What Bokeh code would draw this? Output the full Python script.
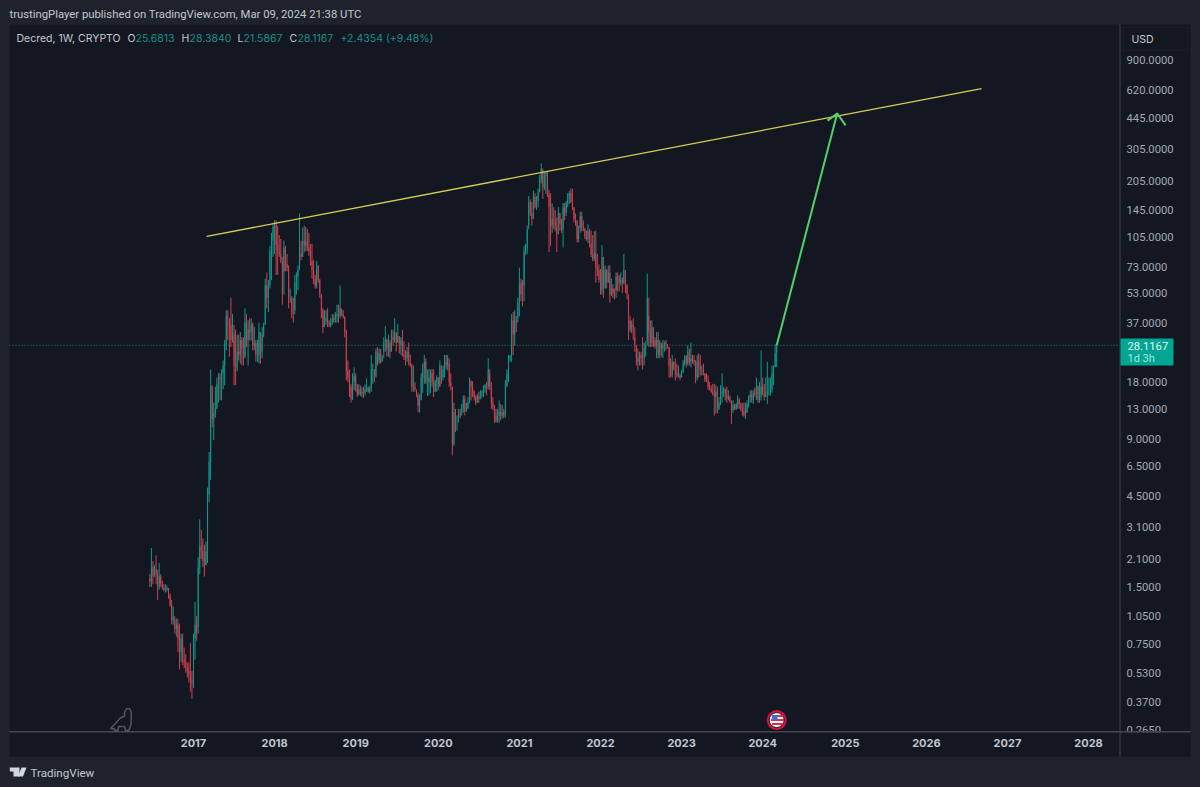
from bokeh.plotting import figure
from bokeh.models import (ColumnDataSource, FixedTicker, NumeralTickFormatter, Label, BoxAnnotation,
                          PolyAnnotation)
from bokeh.embed import file_html
from bokeh.resources import INLINE

highs = [
1.75,2.40,2.05,1.95,2.20,1.85,2.00,1.75,1.62,1.55,
1.55,1.52,1.48,1.38,1.28,1.18,1.00,1.02,1.02,.96,
.85,.85,.72,.66,.60,.60,.76,.54,.85,1.25,
1.05,2.15,3.40,3.00,2.70,2.50,2.60,5.0,7.7,21,
17.3,14,17,19,20,20,21,23.4,30,43,
43,38,50,41,36,34,32,32,33,31,
31,44,41,38,39,39,37,35,30,30,
37,29,35,37,63,68,62,94,110,122,
128,128,120,107,102,82,100,94,85,74,
56,51,50,66,68,74,139,86,117,120,
118,115,110,96,96,79,66,78,74,63,
52,44,43,43,44,38,39,41,41,42,
46,46,58,43,43,40,34,23.4,21,17.6,
20,21.5,20,17.6,17.5,17.3,16.9,17,17.5,18.8,
16.8,17.2,25,22.5,21,27,27.5,27,27,25,
31,35.5,30.5,32,30,34,34,39,32.5,36.5,
31,31,34,29.5,26.5,27.5,29,25,22.5,22,
18,16.3,15.8,15.5,20,22.5,25,24,21,21,
21,21,21,18.5,19.5,19,23.4,19.5,22,25,
25,25,22.5,20,17,14,13,12,13,13,
13.8,15.3,15.3,14,15,19,18.4,18.2,16.3,15.3,
15.6,16,16.3,16.3,17.3,17.6,18,24,20,18,
15,13.6,13,13,14.4,13.8,13.6,13,18.4,21,
25,25,41,42,43,38,50,72,63,62,
94,96,120,172,165,160,183,178,172,188,
222,255,235,230,232,232,185,178,157,150,
145,132,150,140,130,158,158,162,178,183,
188,188,150,139,128,120,142,142,128,117,
113,122,115,113,107,112,113,85,75,71,
95,71,74,71,74,74,63,59,56,68,
68,66,68,64,85,62,59,50,40,38,
39,31,28,27,26,26,31,29,29.5,67,
40,38,38,34,30,33,33,30,29,30,
29.5,30,28.5,27.5,24,25,23,24,22.5,22,
19.5,20.8,23.4,25,25,28,27,29,25,25,
23.4,25,25.5,25,22,22.5,20,20,19.5,18,
17.3,17.6,17.6,17.3,17,15,17.3,20,17,16.6,
17,16.3,15.3,14.4,14.4,13.8,14,15.3,14.4,14,
14,14,14,14.4,15.3,16.3,16.3,16.3,16.8,19,
17.3,18,26.4,19,17.6,19,23,19,19,22,
22,28.4,28.384]

lows = [
1.50,1.50,1.55,1.70,1.55,1.28,1.45,1.50,1.45,1.42,
1.40,1.42,1.30,1.18,.95,.95,.85,.82,.68,.55,
.60,.58,.56,.53,.50,.47,.42,.385,.44,.62,
.78,.92,1.75,2.1,1.9,1.7,1.95,2.0,4.2,5.5,
10.4,8.9,11.7,13,14,14.4,14.4,16.5,17.3,26.4,
30,24.5,27.5,29,17.3,17.3,21.5,23.4,22.5,22,
22,24.5,27.5,22,29.8,29.8,26.4,26.4,23,23,
22.5,22.5,26,31,36,44,42,56,62,82,
85,66,66,82,76,46,69,69,69,44,
47,39,37,43,52,55,72,79,82,87,
88,88,83,74,63,59,56,56,60,50,
39,32.5,36,36,35,35,35,36,37,37,
37,37,40,40,39,31,18.4,18,15,14,
14.5,16.3,16,15,15.3,15.2,15,14.8,15.3,16,
15.8,15.6,16,17.6,18,19,22,22.5,22.5,23,
26,26,24.5,24.5,24,27,28,29,26,29,
25.5,25,24.5,23.5,22,23,22,21.5,16,16,
16,15,12.5,12.4,14.4,15.8,17.6,17.6,15.2,15.3,
15.7,17,15,16,16,16.3,17,17.6,18.4,19,
21,20.7,17,16.3,7.4,8.3,9.8,10,11.6,11.6,
12.4,12.4,12,12.6,13,13.9,14.4,15,14.4,13.6,
14,14,15,14.8,15,15.8,15.3,17,16.3,13,
12.8,11,11,11,11,11.3,11.6,11.6,11.7,17,
18,23,23,25,28,33,39,40,48,45,
58,84,85,120,135,120,145,148,145,162,
180,200,166,185,176,170,87,94,110,115,
112,87,125,113,110,92,128,140,150,156,
158,145,125,120,98,98,116,112,112,102,
100,97,92,82,78,78,60,65,60,52,
52,50,56,56,60,47,51,50,49,55,
54,54,58,53,59,53,49,30,33,32.5,
30,26,22,20.7,22,22,21,24,24.5,29.5,
27.5,27.5,27.5,27.5,27,24,24,24,24.5,24,
26,26.5,27,19,19,19,20.7,18.3,19,19,
18.4,19,20,22,21.5,22,22,21.5,22.5,22,
17.7,18.4,19,19.5,19.5,19.5,18,18,16.3,16.3,
15.8,15.3,12,12.3,12.3,12.8,13.6,14,15,14.4,
14,14.4,14,10.8,12.4,12.8,12.8,13,13,12.6,
12,11.8,11.5,12.4,13.2,14,14,13.8,15,14.5,
14,14,14.4,15.3,14.4,15,13.8,15.3,15.3,15.8,
17.3,21.6,21.5867]

closes = [
1.60,1.90,1.70,1.85,1.75,1.50,1.70,1.55,1.48,1.45,
1.45,1.48,1.35,1.20,1.00,1.05,.90,.95,.80,.68,
.80,.62,.60,.56,.54,.52,.48,.47,.80,.95,
.85,1.90,2.45,2.30,2.05,1.95,2.30,4.60,6.80,17,
11.5,12.3,13,17.5,19,18.5,20,22,28,40,
39,36,30,32,22,20.5,26,25,30,27,
24,37,30,34,33,36,28,29,25,25,
33,24,32,36,58,50,58,88,100,118,
122,95,88,85,78,52,92,75,72,50,
50,42,41,60,65,70,100,82,100,95,
100,92,88,78,70,63,58,74,62,52,
43,35,38,39,37,36,37,39,38,40,
41,39,44,41,39.5,33,20.5,18.8,17,14.6,
18,19.5,17,15.5,16.5,15.6,16,15.8,16.5,17,
16,16.6,21,21,19.5,26,23,25.5,23,24,
29,30,27,29,26,31,30,33,29,31.5,
28,30,25,24.5,24,26,23,22,17,17,
16.5,15.3,13.5,14.5,19,21,23,18,18,19,
20,18,16,18,19,17,22,19,21,23,
22,24,18,17,8.5,12.5,11,11,12.3,12,
13.2,14.7,12.6,13,14,18,17,16,15,14,
15.2,14.6,15.8,16,16.8,17.2,16.5,21,17,14,
13.2,12,11.2,12,12.5,12,12.5,12,17,20,
24,24.5,38,32,40,37,47,60,52,48,
88,92,115,160,140,130,170,150,150,180,
210,240,190,220,228,175,150,120,130,128,
118,108,140,122,115,150,135,158,172,178,
160,150,130,128,102,110,135,118,115,105,
102,112,96,84,80,86,72,70,62,55,
82,56,70,60,68,52,56,53,50,65,
64,60,62,60,70,58,52,38,34,36,
35,28,24,23,25,24,22,27,28,50,
33,29,35,31,28,30,25,29,27,28,
29,28.5,27.5,22,19.5,23,21,20,19.5,20,
19,20.3,22.5,24.5,22.5,26,23,24,23.5,23,
19,23,22,21,21,20,18.5,18.2,17,16.6,
16,15.6,15,16,13,14,15.6,16,16.5,15.5,
14.8,15,14.3,12.8,13.5,13,13.8,14.8,13.6,13,
12.6,12,12.4,13.8,15,15.5,14.5,15.8,15.5,17,
14.5,15,17,15.8,15,15.5,16,16,16.5,20,
21.5,25.6813,28.1167]

first_open = 1.65
opens = [first_open] + closes[:-1]

# weeks since the first bar at which each calendar year starts
year_weeks = [28, 80, 132, 185, 237, 289, 341, 393, 446, 498, 550, 602]
year_labels = ["2017", "2018", "2019", "2020", "2021", "2022", "2023", "2024", "2025", "2026", "2027", "2028"]
price_ticks = [900, 620, 445, 305, 205, 145, 105, 73, 53, 37, 18, 13, 9, 6.5, 4.5, 3.1, 2.1, 1.5, 1.05, 0.75, 0.53, 0.37, 0.265]

last_price = 28.1167
level_weeks = [-90.0, 621.9]
trend_weeks = [36.4, 533.4]
trend_prices = [105.3, 633]
arrow_weeks = [402, 440.8]
arrow_prices = [28.1167, 468]
barb_weeks = [434.6, 440.8, 446.2]
barb_prices = [429, 468, 405]
event_week = [402]
event_price = [0.298]
scale_edge_week = 621.9
scale_edge_price = 0.2600

UP, DOWN = "#0f9a8a", "#cf4150"
BG, OUTER, LINE = "#131722", "#1e222d", "#434651"
W, H = 1200, 787

weeks = list(range(len(closes)))
colors = [UP if c >= o else DOWN for o, c in zip(opens, closes)]
src = ColumnDataSource(dict(x=weeks, h=highs, l=lows,
                            top=[max(o, c) for o, c in zip(opens, closes)],
                            bot=[min(o, c) for o, c in zip(opens, closes)],
                            color=colors))

p = figure(width=W, height=H, y_axis_type="log", y_axis_location="right",
           x_range=(-95.78, 673.8), y_range=(0.1315, 1842),
           output_backend="svg", toolbar_location=None,
           min_border_left=0, min_border_right=0, min_border_top=0, min_border_bottom=0)
p.background_fill_color = OUTER
p.border_fill_color = OUTER
p.outline_line_color = None
p.grid.visible = False


def box(l, t, r, b, color, level="image"):
    p.add_layout(BoxAnnotation(left=l, right=r, top=t, bottom=b,
                               left_units="canvas", right_units="canvas", top_units="canvas", bottom_units="canvas",
                               fill_color=color, fill_alpha=1, line_color=None, level=level, editable=False))


def poly(xs, ys, fill=None, line=None, lw=1.0, level="overlay"):
    p.add_layout(PolyAnnotation(xs=xs, ys=ys, xs_units="canvas", ys_units="canvas",
                                fill_color=fill or BG, fill_alpha=1 if fill else 0,
                                line_color=line, line_width=lw, level=level, editable=False))


def text(s, x, y, color, size="11px", align="left", font="Inter"):
    p.add_layout(Label(x=x, y=y, x_units="canvas", y_units="canvas", text=s,
                       text_color=color, text_font=font, text_font_size=size,
                       text_align=align, text_baseline="middle", level="overlay"))


box(9, 24, 1190, 756, BG)

# axes sit on the chart's own scale, at the edge of the price pane
p.xaxis.fixed_location = scale_edge_price
p.xaxis.ticker = FixedTicker(ticks=year_weeks)
p.xaxis.major_label_overrides = dict(zip(year_weeks, year_labels))
p.xaxis.axis_line_color = None
p.xaxis.major_tick_line_color = None
p.xaxis.major_tick_out = 0
p.xaxis.minor_tick_line_color = None
p.xaxis.major_label_text_color = "#c3c6ce"
p.xaxis.major_label_text_font = "Inter"
p.xaxis.major_label_text_font_size = "11px"
p.xaxis.major_label_text_font_style = "bold"
p.xaxis.major_label_standoff = 8

p.yaxis.fixed_location = scale_edge_week
p.yaxis.ticker = FixedTicker(ticks=price_ticks)
p.yaxis.formatter = NumeralTickFormatter(format="0.0000")
p.yaxis.axis_line_color = None
p.yaxis.major_tick_line_color = None
p.yaxis.major_tick_out = 0
p.yaxis.minor_tick_line_color = None
p.yaxis.major_label_text_color = "#a7aab3"
p.yaxis.major_label_text_font = "Roboto"
p.yaxis.major_label_text_font_size = "11.2px"
p.yaxis.major_label_standoff = 7

# last price level
p.line(level_weeks, [last_price, last_price], line_color="#1f8a80", line_width=1, line_dash=[1, 2])

# candles
p.segment("x", "l", "x", "h", source=src, color="color", line_width=1)
p.vbar("x", width=0.62, top="top", bottom="bot", source=src, fill_color="color", line_color=None)

# drawings
p.line(trend_weeks, trend_prices, line_color="#d6cf55", line_width=1.3)
p.line(arrow_weeks, arrow_prices, line_color="#55cf6a", line_width=2)
p.line(barb_weeks, barb_prices, line_color="#55cf6a", line_width=2)

# event marker
p.scatter(event_week, event_price, size=20, marker="circle", fill_color="#d4123f", line_color=None)
p.scatter(event_week, event_price, size=15, marker="circle", fill_color="#f0f0f4", line_color="#1b1b24", line_width=1)
for t in (715.5, 719.5, 723.5):
    half = 5.5 if t != 719.5 else 6.5
    box(777 - half, t - 1, 777 + half, t + 1, "#d8324a", level="overlay")
box(771.5, 714.5, 777, 720, "#3f6fc8", level="overlay")

# panel rules
box(1120, 732, 1190, 756, BG, level="annotation")
box(9, 730.5, 1190, 732, LINE, level="overlay")
box(1119, 24, 1120, 756, LINE, level="overlay")

# header texts
text("trustingPlayer published on TradingView.com, Mar 09, 2024 21:38 UTC", 9, 14, "#c4c7cf", "11.3px", font="Roboto")
text("Decred, 1W, CRYPTO", 16, 37.5, "#c4c7cf", "10.5px")
TEAL = "#1b8f84"
for lab, xl, val, xv in (("O", 127, "25.6813", 135), ("H", 181, "28.3840", 189),
                         ("L", 237, "21.5867", 243), ("C", 289, "28.1167", 297)):
    text(lab, xl, 37.5, "#c4c7cf", "10.5px")
    text(val, xv, 37.5, TEAL, "10.5px")
text("+2.4354 (+9.48%)", 340, 37.5, TEAL, "10.5px")

# currency button
poly([1123, 1187, 1187, 1123], [27, 27, 50, 50], line="#2a2e39", lw=1)
text("USD", 1131, 38.5, "#c4c7cf", "10.5px")

# last price tag
box(1120, 338, 1173, 365, "#00a693", level="overlay")
text("28.1167", 1127, 345, "#e3f5f2", "11.2px", font="Roboto")
text("1d 3h", 1127, 357.5, "#a8e6dc", "11px", font="Roboto")

# footer
text("TradingView", 30, 772, "#c4c7cf", "11.6px", font="Roboto")
poly([9.3, 19, 19, 13, 13, 9.3], [767, 767, 776, 776, 771, 771], fill="#d4d6dc", line=None)
poly([21, 26, 22.5, 17.5], [767, 767, 776, 776], fill="#d4d6dc", line=None)

# dinosaur
poly([110, 115, 120, 124, 124, 126, 129.3, 130.7, 130.7, 128.3, 125, 124, 118.3, 117.3, 114, 114],
     [728.3, 722.7, 717.3, 715.7, 711.7, 708.3, 708.3, 711.7, 723.3, 730, 730, 726, 726, 730, 730, 728.3],
     line="#e6e8ee", lw=1.5)

html = file_html(p, INLINE)
html = html.replace("</head>", "<style>html,body{background:%s;margin:0;overflow:hidden}</style></head>" % OUTER, 1)
open("out.html", "w").write(html)
